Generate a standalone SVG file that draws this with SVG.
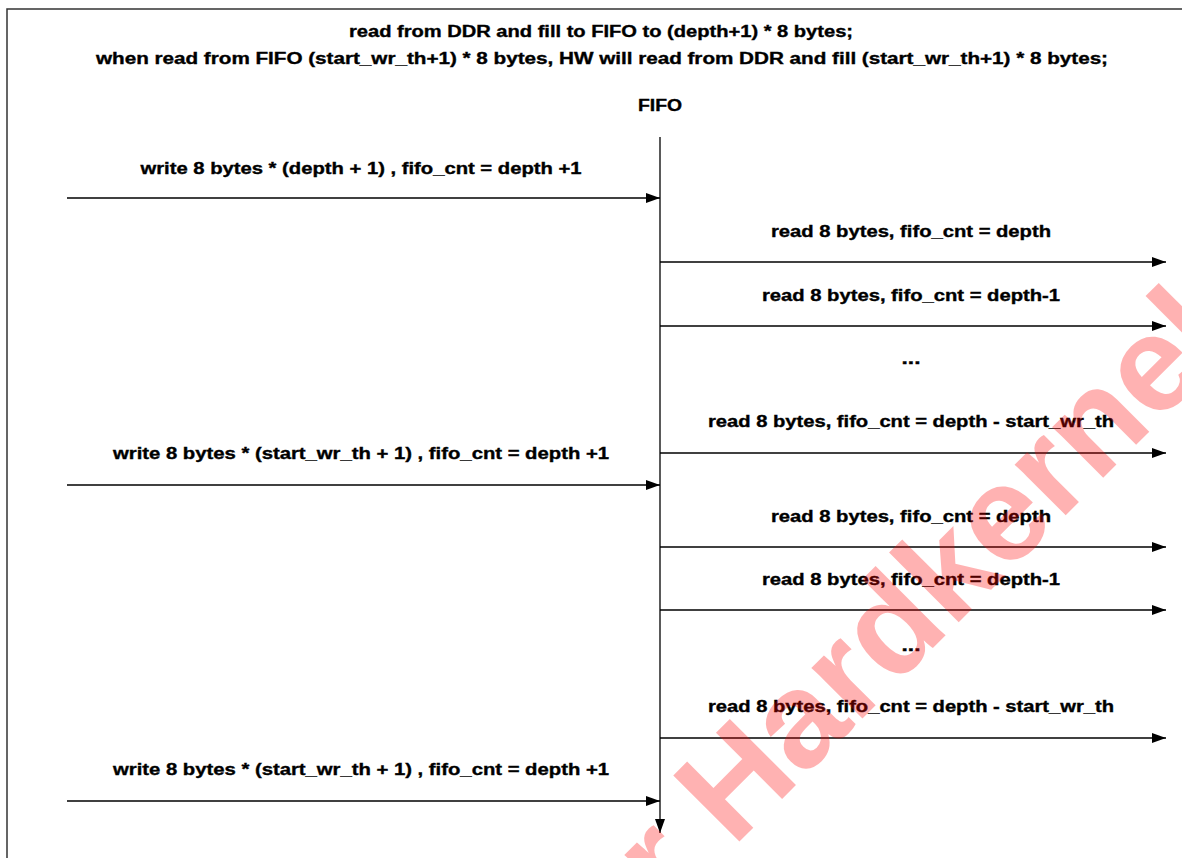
<svg xmlns="http://www.w3.org/2000/svg" width="1182" height="858" viewBox="0 0 1182 858">
<style>
  .t { font-family: "Liberation Sans", Arial, sans-serif; font-weight: bold; font-size: 16px; fill: #000; stroke: #000; stroke-width: 0.35; text-anchor: middle; }
  .c { stroke: #000; stroke-width: 1.3; fill: none; }
  .wm { font-family: "Liberation Sans", Arial, sans-serif; font-weight: bold; font-size: 136px; fill: #ff0000; fill-opacity: 0.3; }
</style>
<defs>
  <marker id="ah" markerUnits="userSpaceOnUse" markerWidth="14" markerHeight="12" viewBox="0 0 14 12" refX="14" refY="6" orient="auto">
    <path d="M0,1 L14,6 L0,11 z" fill="#000"/>
  </marker>
</defs>
<rect x="0" y="0" width="1182" height="858" fill="#fff"/>
<rect x="7" y="9" width="1200" height="900" fill="none" stroke="#333" stroke-width="1.5"/>

<g id="header">
  <text class="t" x="601" y="37" textLength="504" lengthAdjust="spacingAndGlyphs">read from DDR and fill to FIFO to (depth+1) * 8 bytes;</text>
  <text class="t" x="602" y="64" textLength="1012" lengthAdjust="spacingAndGlyphs">when read from FIFO (start_wr_th+1) * 8 bytes, HW will read from DDR and fill (start_wr_th+1) * 8 bytes;</text>
</g>
<g id="fifo">
  <text class="t" x="660" y="111" textLength="44" lengthAdjust="spacingAndGlyphs">FIFO</text>
</g>

<g id="connectors">
  <line class="c" x1="660" y1="137" x2="660" y2="833" marker-end="url(#ah)"/>
  <line class="c" x1="67" y1="198" x2="660" y2="198" marker-end="url(#ah)"/>
  <line class="c" x1="660" y1="262" x2="1166" y2="262" marker-end="url(#ah)"/>
  <line class="c" x1="660" y1="326" x2="1166" y2="326" marker-end="url(#ah)"/>
  <line class="c" x1="660" y1="453" x2="1166" y2="453" marker-end="url(#ah)"/>
  <line class="c" x1="67" y1="485" x2="660" y2="485" marker-end="url(#ah)"/>
  <line class="c" x1="660" y1="547" x2="1166" y2="547" marker-end="url(#ah)"/>
  <line class="c" x1="660" y1="610" x2="1166" y2="610" marker-end="url(#ah)"/>
  <line class="c" x1="660" y1="738" x2="1166" y2="738" marker-end="url(#ah)"/>
  <line class="c" x1="67" y1="801" x2="660" y2="801" marker-end="url(#ah)"/>
</g>

<g id="labels">
  <text class="t" x="361" y="174" textLength="441" lengthAdjust="spacingAndGlyphs">write 8 bytes * (depth + 1) , fifo_cnt = depth +1</text>
  <text class="t" x="911" y="237" textLength="280" lengthAdjust="spacingAndGlyphs">read 8 bytes, fifo_cnt = depth</text>
  <text class="t" x="911" y="301" textLength="298" lengthAdjust="spacingAndGlyphs">read 8 bytes, fifo_cnt = depth-1</text>
  <text class="t" x="911" y="364" textLength="19" lengthAdjust="spacingAndGlyphs">...</text>
  <text class="t" x="911" y="427" textLength="406" lengthAdjust="spacingAndGlyphs">read 8 bytes, fifo_cnt = depth - start_wr_th</text>
  <text class="t" x="361" y="459" textLength="496" lengthAdjust="spacingAndGlyphs">write 8 bytes * (start_wr_th + 1) , fifo_cnt = depth +1</text>
  <text class="t" x="911" y="522" textLength="280" lengthAdjust="spacingAndGlyphs">read 8 bytes, fifo_cnt = depth</text>
  <text class="t" x="911" y="585" textLength="298" lengthAdjust="spacingAndGlyphs">read 8 bytes, fifo_cnt = depth-1</text>
  <text class="t" x="911" y="651" textLength="19" lengthAdjust="spacingAndGlyphs">...</text>
  <text class="t" x="911" y="712" textLength="406" lengthAdjust="spacingAndGlyphs">read 8 bytes, fifo_cnt = depth - start_wr_th</text>
  <text class="t" x="361" y="775" textLength="496" lengthAdjust="spacingAndGlyphs">write 8 bytes * (start_wr_th + 1) , fifo_cnt = depth +1</text>
</g>

<g id="watermark">
  <text class="wm" x="578" y="1003" transform="rotate(-45 578 1003)">for Hardkernel</text>
</g>
</svg>
